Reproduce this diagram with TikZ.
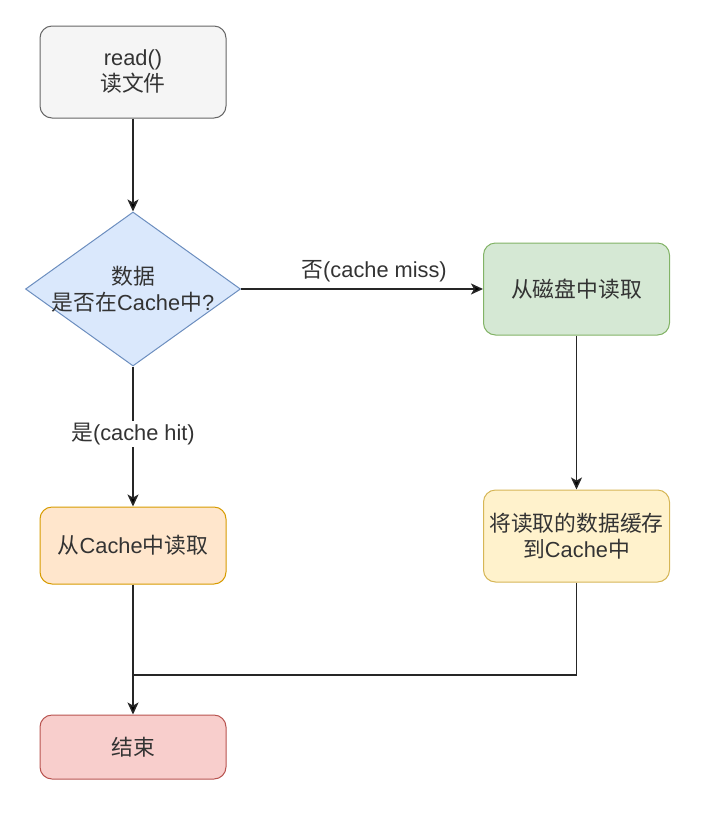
\documentclass[tikz,border=0pt]{standalone}
\usepackage{fontspec}
\setmainfont{Liberation Sans}
\newfontfamily\cjk{Noto Sans CJK SC}
\newcommand{\zh}[1]{{\cjk #1}}
\usepackage{tikz}
\usetikzlibrary{arrows.meta}
\usetikzlibrary{positioning}
\usetikzlibrary{shapes.geometric}
\definecolor{grayfill}{HTML}{F5F5F5}\definecolor{graydraw}{HTML}{666666}
\definecolor{bluefill}{HTML}{DAE8FC}\definecolor{bluedraw}{HTML}{6C8EBF}
\definecolor{greenfill}{HTML}{D5E8D4}\definecolor{greendraw}{HTML}{82B366}
\definecolor{orangefill}{HTML}{FFE6CC}\definecolor{orangedraw}{HTML}{D79B00}
\definecolor{yellowfill}{HTML}{FFF2CC}\definecolor{yellowdraw}{HTML}{D6B656}
\definecolor{redfill}{HTML}{F8CECC}\definecolor{reddraw}{HTML}{B85450}
\definecolor{textgray}{HTML}{333333}

\begin{document}
\begin{tikzpicture}
  [x=0.5pt,y=-0.5pt,
   main node/.style={rectangle,rounded corners=6pt,draw,line width=0.5pt,minimum width=93pt,minimum height=46pt,inner sep=1pt,align=center,text=textgray,font=\fontsize{10.9}{13}\selectfont},
   gray node/.style={main node,fill=grayfill,draw=graydraw},
   green node/.style={main node,fill=greenfill,draw=greendraw},
   orange node/.style={main node,fill=orangefill,draw=orangedraw,minimum height=38.5pt},
   yellow node/.style={main node,fill=yellowfill,draw=yellowdraw},
   red node/.style={main node,fill=redfill,draw=reddraw,minimum height=32pt},
   decision/.style={diamond,draw=bluedraw,fill=bluefill,line width=0.5pt,minimum width=107.5pt,minimum height=77pt,inner sep=-8pt,align=center,text=textgray,font=\fontsize{10.9}{13}\selectfont}]
  \useasboundingbox (0,0) rectangle (701,820);
  \node[gray node]    (ReadFile)  at (133,72)                 {read()\\\zh{读文件}};
  \node[decision]     (InCache)   [below=46.5pt of ReadFile]  {\zh{数据}\\\zh{是否在}Cache\zh{中}?};
  \node[green node]   (ReadDisk)  [right=121pt of InCache]    {\zh{从磁盘中读取}};
  \node[orange node]  (ReadCache) [below=70pt of InCache]     {\zh{从}Cache\zh{中读取}};
  \node[yellow node]  (SaveCache) [below=77pt of ReadDisk]    {\zh{将读取的数据缓存}\\\zh{到}Cache\zh{中}};
  \node[red node]     (End)       [below=65pt of ReadCache]   {\zh{结束}};
  \coordinate         (Join)      at (ReadCache |- 0,675);

  \path[->,>={Stealth[length=6pt,width=5.5pt,inset=1.5pt]},line width=0.75pt,draw=black!85,
        every node/.style={text=textgray,font=\fontsize{10.9}{13}\selectfont}]
    (ReadFile)  edge (InCache)
    (InCache)   edge node [above,pos=0.55] {\zh{否}(cache miss)} (ReadDisk)
                edge node [fill=white,pos=0.48,inner sep=1pt] {\zh{是}(cache hit)} (ReadCache)
    (ReadDisk)  edge (SaveCache)
    (ReadCache) edge (End)
    ;
  \draw[line width=0.75pt,draw=black!85] (SaveCache) |- (Join);
\end{tikzpicture}
\end{document}
